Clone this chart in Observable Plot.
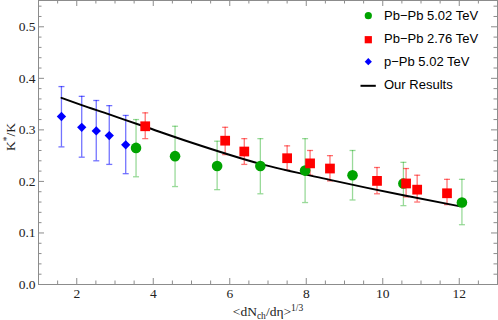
<!DOCTYPE html>
<html>
<head>
<meta charset="utf-8">
<script src="https://cdn.jsdelivr.net/npm/d3@7"></script>
<script src="https://cdn.jsdelivr.net/npm/@observablehq/plot@0.6"></script>
<style>
  html, body { margin: 0; padding: 0; background: #fff; }
  #chart svg { display: block; }
</style>
</head>
<body>
<div id="chart"></div>
<script>
// ---- Data ----
const pbpb502X  = [3.55, 4.57, 5.67, 6.80, 7.97, 9.21, 10.54, 12.07];
const pbpb502Y  = [0.265, 0.249, 0.230, 0.230, 0.221, 0.212, 0.196, 0.159];
const pbpb502Lo = [0.209, 0.190, 0.184, 0.176, 0.159, 0.164, 0.153, 0.116];
const pbpb502Hi = [0.320, 0.307, 0.278, 0.283, 0.283, 0.260, 0.237, 0.204];

const pbpb276X  = [3.79, 5.88, 6.38, 7.50, 8.10, 8.62, 9.85, 10.61, 10.90, 11.68];
const pbpb276Y  = [0.307, 0.279, 0.258, 0.245, 0.235, 0.225, 0.201, 0.196, 0.184, 0.177];
const pbpb276Lo = [0.283, 0.252, 0.233, 0.222, 0.212, 0.201, 0.176, 0.170, 0.160, 0.155];
const pbpb276Hi = [0.333, 0.305, 0.283, 0.269, 0.260, 0.250, 0.227, 0.225, 0.212, 0.204];

const ppb502X  = [1.60, 2.13, 2.51, 2.85, 3.28];
const ppb502Y  = [0.326, 0.305, 0.298, 0.289, 0.271];
const ppb502Lo = [0.267, 0.247, 0.240, 0.233, 0.215];
const ppb502Hi = [0.384, 0.365, 0.357, 0.347, 0.328];

const modelX = [1.60, 2.13, 2.85, 3.28, 3.79, 4.97, 6.80, 8.62, 10.54, 12.00];
const modelY = [0.362, 0.348, 0.330, 0.319, 0.306, 0.276, 0.234, 0.203, 0.173, 0.152];

const xMajor = [2, 4, 6, 8, 10, 12];
const xMinor = d3.range(1, 13.01, 0.5).filter(v => !xMajor.includes(v));
const yMajor = [0, 0.1, 0.2, 0.3, 0.4, 0.5];
const yMinor = d3.range(0, 0.551, 0.02).filter(v => !yMajor.some(m => Math.abs(m - v) < 1e-9));

const legendLabels = ["Pb\u2212Pb 5.02 TeV", "Pb\u2212Pb 2.76 TeV", "p\u2212Pb 5.02 TeV", "Our Results"];

// ---- Build tables ----
const mk = (X, Y, Lo, Hi) => X.map((x, i) => ({x, y: Y[i], lo: Lo[i], hi: Hi[i]}));
const green = mk(pbpb502X, pbpb502Y, pbpb502Lo, pbpb502Hi);
const red = mk(pbpb276X, pbpb276Y, pbpb276Lo, pbpb276Hi);
const blue = mk(ppb502X, ppb502Y, ppb502Lo, ppb502Hi);
const model = modelX.map((x, i) => ({x, y: modelY[i]}));

const W = 498, H = 320, mL = 38, mR = 1, mT = 0, mB = 36;
const iW = W - mL - mR, iH = H - mT - mB;

const GREEN = "#00a300", RED = "#ff0000", BLUE = "#0000ff";
const FRAME = "#8c8c8c";
const SERIF = "'Liberation Serif', 'Times New Roman', serif";
const SANS = "'Liberation Sans', Arial, sans-serif";
const capSymbol = { draw(ctx, size) { const r = Math.sqrt(size) / 2; ctx.moveTo(-r, 0); ctx.lineTo(r, 0); } };

function errMarks(data, color, op) {
  return [
    Plot.ruleX(data, {x: "x", y1: "lo", y2: "hi", stroke: color, strokeOpacity: op, strokeWidth: 1.3}),
    Plot.dot(data, {x: "x", y: "hi", symbol: capSymbol, r: 3.4, stroke: color, strokeOpacity: op, strokeWidth: 1.3, fill: "none"}),
    Plot.dot(data, {x: "x", y: "lo", symbol: capSymbol, r: 3.4, stroke: color, strokeOpacity: op, strokeWidth: 1.3, fill: "none"})
  ];
}

const svg = Plot.plot({
  width: W, height: H,
  marginLeft: mL, marginRight: mR, marginTop: mT, marginBottom: mB,
  style: {background: "#fff", overflow: "visible"},
  x: {domain: [1, 13]},
  y: {domain: [0, 0.551]},
  marks: [
    // ticks (inward, all four sides)
    Plot.ruleX(xMinor, {stroke: FRAME, insetTop: iH - 3.5}),
    Plot.ruleX(xMinor, {stroke: FRAME, insetBottom: iH - 3.5}),
    Plot.ruleX(xMajor, {stroke: FRAME, insetTop: iH - 6}),
    Plot.ruleX(xMajor, {stroke: FRAME, insetBottom: iH - 6}),
    Plot.ruleY(yMinor, {stroke: FRAME, insetRight: iW - 3.5}),
    Plot.ruleY(yMinor, {stroke: FRAME, insetLeft: iW - 3.5}),
    Plot.ruleY(yMajor, {stroke: FRAME, insetRight: iW - 6}),
    Plot.ruleY(yMajor, {stroke: FRAME, insetLeft: iW - 6}),
    Plot.frame({stroke: FRAME}),
    Plot.axisX(xMajor, {tickSize: 0, tickPadding: 4, label: null, fontSize: 13.5, fontFamily: SERIF, fill: "#222"}),
    Plot.axisY(yMajor, {tickSize: 0, tickPadding: 3, label: null, tickFormat: d3.format(".1f"), fontSize: 13.5, fontFamily: SERIF, fill: "#222"}),
    // error bars
    ...errMarks(blue, BLUE, 0.55),
    ...errMarks(green, GREEN, 0.4),
    ...errMarks(red, RED, 0.55),
    // model line
    Plot.line(model, {x: "x", y: "y", stroke: "#000", strokeWidth: 2, curve: "monotone-x"}),
    // markers
    Plot.dot(green, {x: "x", y: "y", r: 5.3, fill: GREEN, stroke: "none"}),
    Plot.dot(red, {x: "x", y: "y", symbol: "square", r: 5.5, fill: RED, stroke: "none"}),
    Plot.dot(blue, {x: "x", y: "y", symbol: "diamond2", r: 4.2, fill: BLUE, stroke: "none"})
  ]
});

const s = d3.select(svg);
// Axis labels
const xl = s.append("text")
  .attr("x", 268).attr("y", 316)
  .attr("text-anchor", "middle")
  .style("font-family", SERIF).style("font-size", "13.5px").attr("fill", "#222");
xl.append("tspan").text("<dN");
xl.append("tspan").style("font-size", "9.5px").attr("dy", 2.5).text("ch");
xl.append("tspan").attr("dy", -2.5).text("/d\u03b7>");
xl.append("tspan").style("font-size", "9.5px").attr("dy", -5).text("1/3");

const yl = s.append("text")
  .attr("transform", "translate(14.5,137) rotate(-90)")
  .attr("text-anchor", "middle")
  .style("font-family", SERIF).style("font-size", "13.5px").attr("fill", "#222");
yl.append("tspan").text("K");
yl.append("tspan").style("font-size", "9.5px").attr("dy", -5).text("*");
yl.append("tspan").attr("dy", 5).text("/K");

// Legend
const lg = s.append("g").style("font-family", SANS).style("font-size", "13px").attr("fill", "#000").attr("text-anchor", "start");
const ly = [15, 38.5, 61, 84.5];
const sx = 368.3, tx = 384;
lg.append("circle").attr("cx", sx).attr("cy", ly[0] + 0.7).attr("r", 3.6).attr("fill", GREEN);
lg.append("rect").attr("x", sx - 3.6).attr("y", ly[1] + 1.2 - 3.6).attr("width", 7.2).attr("height", 7.2).attr("fill", RED);
lg.append("path").attr("d", `M${sx},${ly[2] + 0.7 - 3.6}L${sx + 3.6},${ly[2] + 0.7}L${sx},${ly[2] + 0.7 + 3.6}L${sx - 3.6},${ly[2] + 0.7}Z`).attr("fill", BLUE);
lg.append("line").attr("x1", 360.5).attr("x2", 375.8).attr("y1", ly[3] + 1.3).attr("y2", ly[3] + 1.3).attr("stroke", "#000").attr("stroke-width", 2);
legendLabels.forEach((t, i) => {
  lg.append("text").attr("x", tx).attr("y", ly[i]).attr("dy", "0.35em").attr("text-anchor", "start").text(t);
});

document.getElementById("chart").appendChild(svg);
</script>
</body>
</html>
